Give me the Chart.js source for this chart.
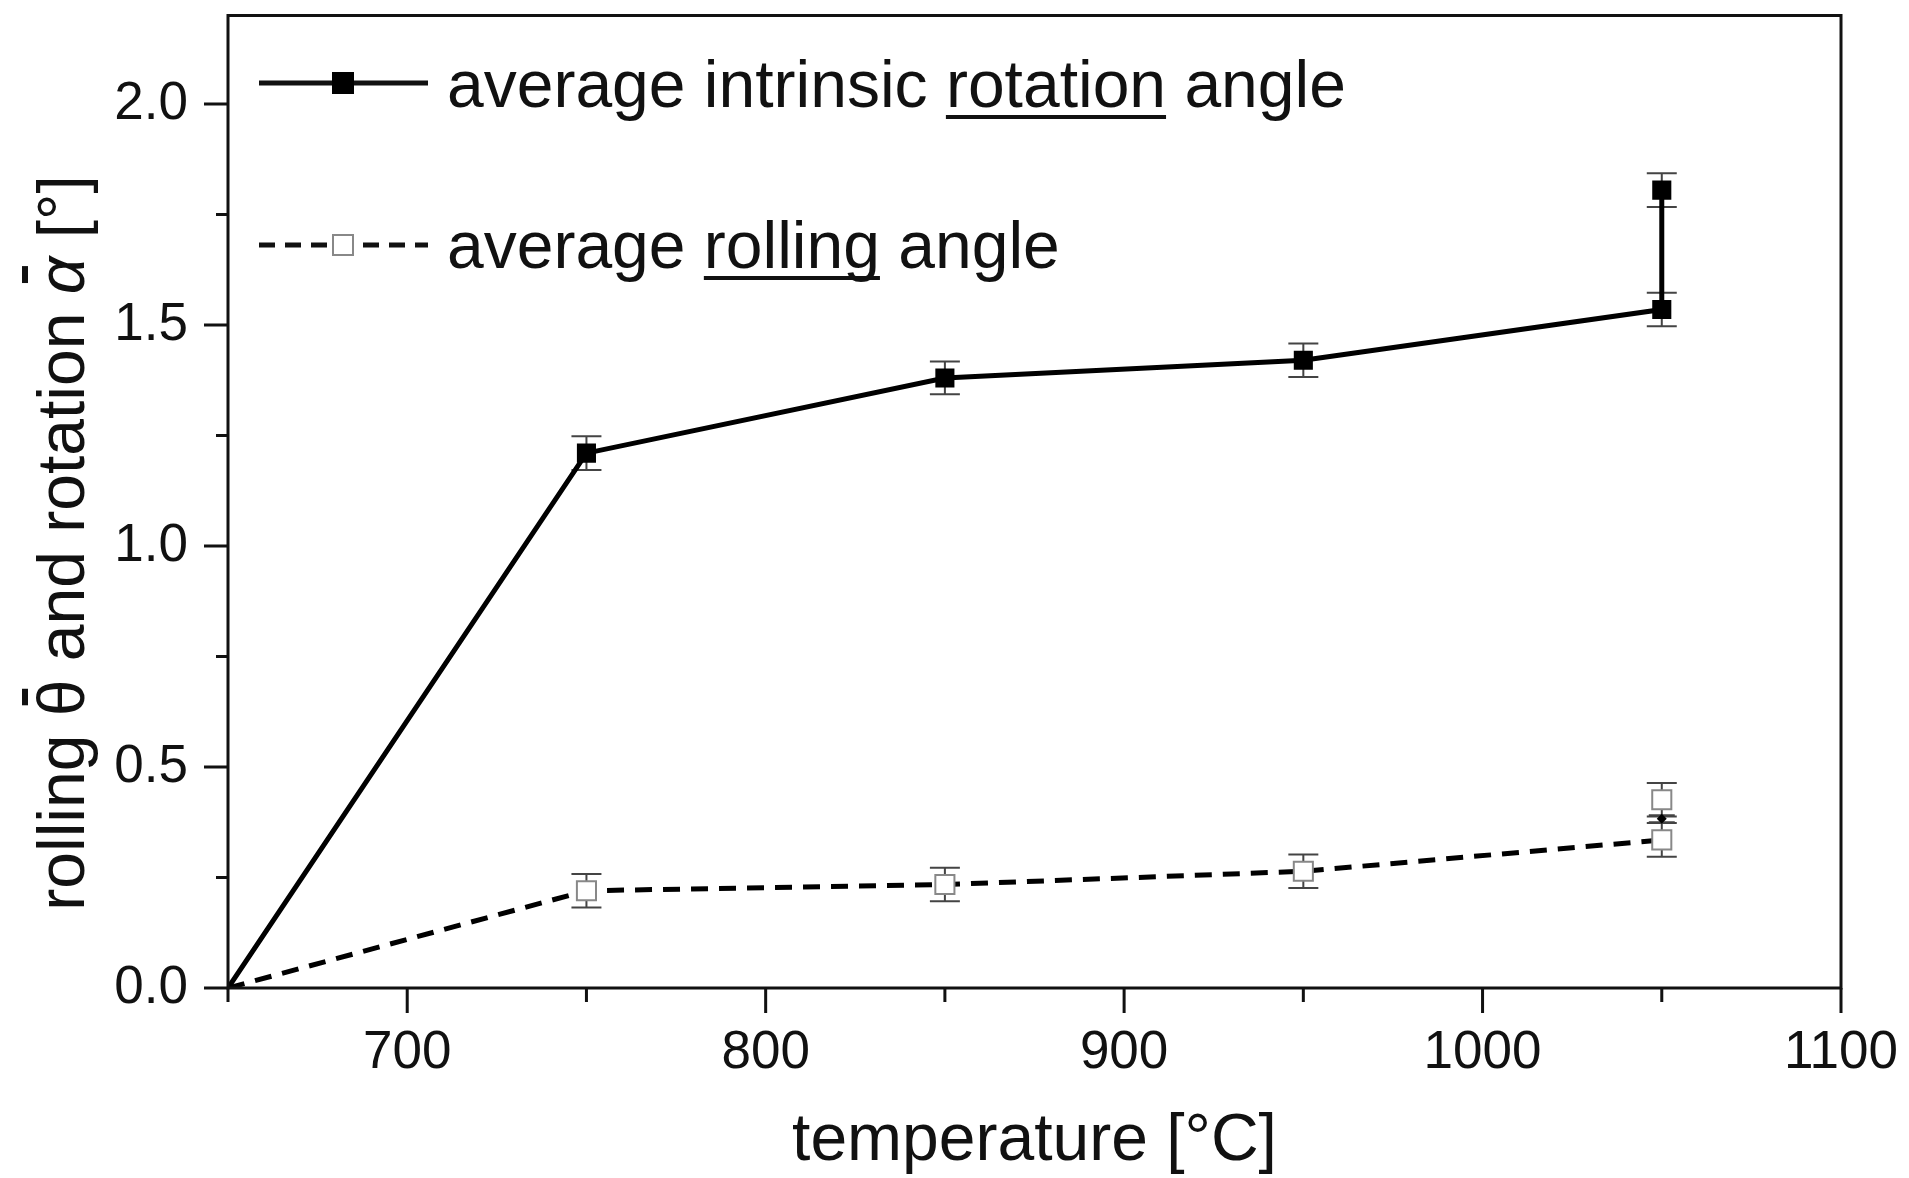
<!DOCTYPE html>
<html>
<head>
<meta charset="utf-8">
<script src="https://cdn.jsdelivr.net/npm/chart.js@4.4.1/dist/chart.umd.min.js"></script>
<style>
  html, body { margin: 0; padding: 0; background: #ffffff; }
  #wrap { width: 1909px; height: 1178px; }
</style>
</head>
<body>
<div id="wrap"><canvas id="c" width="1909" height="1178"></canvas></div>
<script>
// ---- data ----
const rotationTemp  = [650, 750, 850, 950, 1050, 1050];
const rotationAngle = [0, 1.21, 1.38, 1.42, 1.535, 1.805];
const rotationErr   = [0, 0.038, 0.037, 0.038, 0.038, 0.038];

const rollingTemp  = [650, 750, 850, 950, 1050];
const rollingAngle = [0, 0.22, 0.234, 0.264, 0.335];
const rollingErr   = [0, 0.038, 0.038, 0.038, 0.038];

const rollingExtraTemp  = [1050];
const rollingExtraAngle = [0.426];
const rollingExtraErr   = [0.038];

const midMarkTemp  = [1050];
const midMarkAngle = [0.383];
const midMarkErr   = [0.008];

const xMajorTicks = [700, 800, 900, 1000, 1100];
const xMinorTicks = [650, 750, 850, 950, 1050];
const yMajorTicks = [0, 0.5, 1.0, 1.5, 2.0];
const yMinorTicks = [0.25, 0.75, 1.25, 1.75];
const xTickLabels = ['700', '800', '900', '1000', '1100'];
const yTickLabels = ['0.0', '0.5', '1.0', '1.5', '2.0'];

const legendLabels = [
  ['average intrinsic ', 'rotation', ' angle'],
  ['average ', 'rolling', ' angle']
];
const xTitle = 'temperature [°C]';

const FONT = '"Liberation Sans", Arial, Helvetica, sans-serif';
const pts = (xs, ys) => xs.map((x, i) => ({x: x, y: ys[i]}));

const errorSets = [
  {ds: 0, err: rotationErr},
  {ds: 1, err: rollingErr},
  {ds: 2, err: rollingExtraErr},
  {ds: 3, err: midMarkErr}
];

function zeroPad(s) { s.paddingTop = 0; s.paddingBottom = 0; s.paddingLeft = 0; s.paddingRight = 0; }

const decorPlugin = {
  id: 'decor',
  beforeDatasetsDraw(chart) {
    const ctx = chart.ctx;
    const ys = chart.scales.y;
    ctx.save();
    ctx.strokeStyle = '#444';
    ctx.lineWidth = 2;
    errorSets.forEach(s => {
      const meta = chart.getDatasetMeta(s.ds);
      const data = chart.data.datasets[s.ds].data;
      meta.data.forEach((el, i) => {
        const e = s.err[i];
        if (!e) return;
        const x = el.x;
        const yTop = ys.getPixelForValue(data[i].y + e);
        const yBot = ys.getPixelForValue(data[i].y - e);
        const hw = s.ds === 3 ? 13 : 15;
        ctx.beginPath();
        ctx.moveTo(x, yTop); ctx.lineTo(x, yBot);
        ctx.moveTo(x - hw, yTop); ctx.lineTo(x + hw, yTop);
        ctx.moveTo(x - hw, yBot); ctx.lineTo(x + hw, yBot);
        ctx.stroke();
      });
    });
    ctx.restore();
  },
  afterDraw(chart) {
    const ctx = chart.ctx;
    const a = chart.chartArea;
    const xs = chart.scales.x, ys = chart.scales.y;
    ctx.save();
    // frame
    ctx.strokeStyle = '#111';
    ctx.lineWidth = 3;
    ctx.strokeRect(a.left, a.top, a.right - a.left, a.bottom - a.top);
    // tick marks (outward)
    ctx.beginPath();
    xMajorTicks.forEach(v => { const p = xs.getPixelForValue(v); ctx.moveTo(p, a.bottom); ctx.lineTo(p, a.bottom + 25); });
    xMinorTicks.forEach(v => { const p = xs.getPixelForValue(v); ctx.moveTo(p, a.bottom); ctx.lineTo(p, a.bottom + 14); });
    yMajorTicks.forEach(v => { const p = ys.getPixelForValue(v); ctx.moveTo(a.left, p); ctx.lineTo(a.left - 24, p); });
    yMinorTicks.forEach(v => { const p = ys.getPixelForValue(v); ctx.moveTo(a.left, p); ctx.lineTo(a.left - 12, p); });
    ctx.stroke();

    // legend
    ctx.fillStyle = '#111';
    ctx.font = '66px ' + FONT;
    ctx.textBaseline = 'alphabetic';
    const rows = [
      {y: 83, base: 107, ul: 117, dash: [], marker: 'filled'},
      {y: 245, base: 268, ul: 278, dash: [16, 10], marker: 'open'}
    ];
    rows.forEach((r, k) => {
      ctx.save();
      ctx.strokeStyle = '#111';
      ctx.lineWidth = 5;
      ctx.setLineDash(r.dash);
      ctx.beginPath();
      ctx.moveTo(259, r.y); ctx.lineTo(428, r.y);
      ctx.stroke();
      ctx.restore();
      if (r.marker === 'filled') {
        ctx.fillStyle = '#000';
        ctx.fillRect(343 - 11, r.y - 11, 22, 22);
      } else {
        ctx.fillStyle = '#fff';
        ctx.fillRect(343 - 11, r.y - 11, 22, 22);
        ctx.strokeStyle = '#888';
        ctx.lineWidth = 2;
        ctx.strokeRect(343 - 10, r.y - 10, 20, 20);
      }
      ctx.fillStyle = '#111';
      let x = 447;
      legendLabels[k].forEach((part, j) => {
        ctx.fillText(part, x, r.base);
        const w = ctx.measureText(part).width;
        if (j === 1) {
          ctx.fillRect(x, r.ul - 2, w, 4);
        }
        x += w;
      });
    });

    // y axis title (rotated), with overbars on theta and alpha
    ctx.save();
    ctx.translate(84, 543);
    ctx.rotate(-Math.PI / 2);
    ctx.fillStyle = '#111';
    const parts = [
      {t: 'rolling ', f: '66px ' + FONT, bar: false},
      {t: 'θ', f: '66px ' + FONT, bar: true},
      {t: ' and rotation ', f: '66px ' + FONT, bar: false},
      {t: 'α', f: 'italic 66px ' + FONT, bar: true},
      {t: ' [°]', f: '66px ' + FONT, bar: false}
    ];
    let total = 0;
    parts.forEach(p => { ctx.font = p.f; p.w = ctx.measureText(p.t).width; total += p.w; });
    let px = -total / 2;
    ctx.textBaseline = 'alphabetic';
    parts.forEach(p => {
      ctx.font = p.f;
      ctx.fillText(p.t, px, 0);
      if (p.bar) {
        ctx.fillRect(px + p.w * 0.3, -62, p.w * 0.45, 6);
      }
      px += p.w;
    });
    ctx.restore();
    ctx.restore();
  }
};

new Chart(document.getElementById('c'), {
  type: 'line',
  data: {
    datasets: [
      {
        label: 'average intrinsic rotation angle',
        data: pts(rotationTemp, rotationAngle),
        borderColor: '#000',
        borderWidth: 5,
        tension: 0,
        pointStyle: 'rect',
        pointRadius: rotationTemp.map((t, i) => i === 0 ? 0 : 13.5),
        pointBackgroundColor: '#000',
        pointBorderColor: '#000',
        pointBorderWidth: 0
      },
      {
        label: 'average rolling angle',
        data: pts(rollingTemp, rollingAngle),
        borderColor: '#000',
        borderWidth: 5,
        borderDash: [17, 11],
        tension: 0,
        pointStyle: 'rect',
        pointRadius: rollingTemp.map((t, i) => i === 0 ? 0 : 13.5),
        pointBackgroundColor: '#fff',
        pointBorderColor: '#888',
        pointBorderWidth: 2
      },
      {
        label: 'rolling extra',
        data: pts(rollingExtraTemp, rollingExtraAngle),
        showLine: false,
        pointStyle: 'rect',
        pointRadius: 13.5,
        pointBackgroundColor: '#fff',
        pointBorderColor: '#888',
        pointBorderWidth: 2
      },
      {
        label: 'mid mark',
        data: pts(midMarkTemp, midMarkAngle),
        showLine: false,
        pointStyle: 'rectRot',
        pointRadius: 5,
        pointBackgroundColor: '#000',
        pointBorderColor: '#000',
        pointBorderWidth: 0
      }
    ]
  },
  options: {
    responsive: false,
    animation: false,
    layout: { padding: { top: 15, right: 68, left: 0, bottom: 0 } },
    plugins: { legend: { display: false }, tooltip: { enabled: false } },
    scales: {
      x: {
        type: 'linear',
        min: 650, max: 1100,
        afterFit(s) { s.height = 190; zeroPad(s); },
        afterBuildTicks(s) { s.ticks = xMajorTicks.map(v => ({value: v})); },
        grid: { display: false, drawTicks: false },
        border: { display: false },
        ticks: {
          autoSkip: false,
          maxRotation: 0,
          padding: 34,
          color: '#111',
          font: { family: FONT, size: 53 },
          callback: (v) => { const i = xMajorTicks.indexOf(v); return i >= 0 ? xTickLabels[i] : ''; }
        },
        title: {
          display: true,
          text: xTitle,
          color: '#111',
          font: { family: FONT, size: 66, lineHeight: 1.1 },
          padding: { top: 0, bottom: 0 }
        }
      },
      y: {
        type: 'linear',
        min: 0, max: 2.2,
        afterFit(s) { s.width = 228; zeroPad(s); },
        afterBuildTicks(s) { s.ticks = yMajorTicks.map(v => ({value: v})); },
        grid: { display: false, drawTicks: false },
        border: { display: false },
        ticks: {
          autoSkip: false,
          padding: 40,
          color: '#111',
          font: { family: FONT, size: 53 },
          callback: (v) => { const i = yMajorTicks.findIndex(t => Math.abs(t - v) < 1e-9); return i >= 0 ? yTickLabels[i] : ''; }
        }
      }
    }
  },
  plugins: [decorPlugin]
});
</script>
</body>
</html>
